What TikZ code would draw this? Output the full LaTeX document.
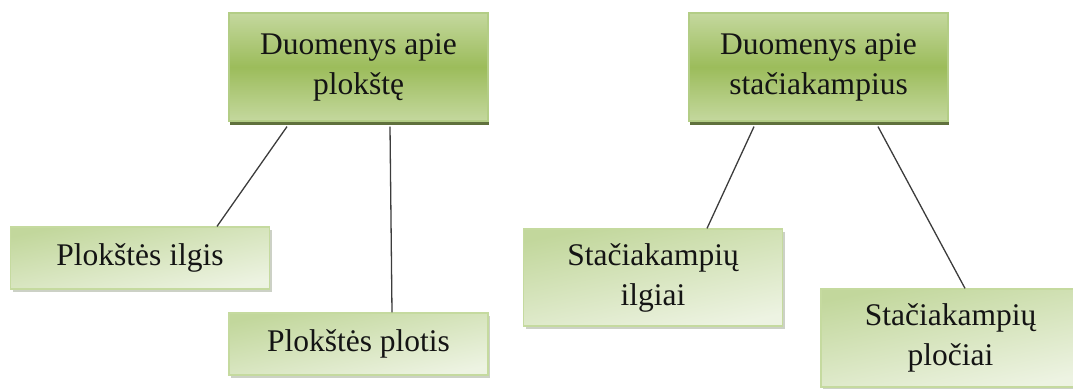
\documentclass[tikz,border=0pt]{standalone}
\usepackage{fontspec}
\setmainfont{Liberation Serif}
\usetikzlibrary{shadows}

\definecolor{headtop}{HTML}{C4D89E}
\definecolor{headmid}{HTML}{9CBC5B}
\definecolor{headedge}{HTML}{B3CD86}
\definecolor{headshadow}{HTML}{4F6228}
\definecolor{leaftop}{HTML}{C2D79C}
\definecolor{leafbottom}{HTML}{EDF3E2}
\definecolor{leafedge}{HTML}{C5DA9F}
\definecolor{leafshadow}{HTML}{8E9A80}
\definecolor{linkgrey}{HTML}{3C3C3C}

\tikzset{
  x=1pt, y=-1pt,
  every node/.style={font=\fontsize{31.5}{40}\selectfont, text=black!92, align=center, inner sep=0pt},
  headbox/.style={minimum width=259pt, minimum height=108pt, draw=headedge, line width=1.2pt,
    top color=headtop, bottom color=headtop, middle color=headmid,
    drop shadow={shadow xshift=0.8pt, shadow yshift=-4pt, fill=headshadow, opacity=0.9}},
  leafbox/.style={minimum width=259pt, draw=leafedge, line width=1.2pt,
    top color=leaftop, bottom color=leafbottom, shading angle=12,
    drop shadow={shadow xshift=2pt, shadow yshift=-3pt, fill=leafshadow, opacity=0.45}},
  link/.style={draw=linkgrey, line width=1.3pt}
}

\begin{document}
\begin{tikzpicture}
\useasboundingbox (0,0) rectangle (1073,388);

% parent boxes
\node[headbox] (plate) at (358.5,67) {Duomenys apie\\plokštę};
\node[headbox] (rects) at (818.5,67) {Duomenys apie\\stačiakampius};

% child boxes
\node[leafbox, minimum height=62pt] (plen) at (140,258) {Plokštės ilgis};
\node[leafbox, minimum height=62pt] (pwid) at (358.5,344) {Plokštės plotis};
\node[leafbox, minimum height=97pt] (rlen) at (653,277.5) {Stačiakampių\\ilgiai};
\node[leafbox, minimum height=98pt] (rwid) at (950.5,338) {Stačiakampių\\pločiai};

% connectors
\draw[link] ([xshift=-71.5pt, yshift=-5pt]plate.south) -- ([xshift=77pt]plen.north);
\draw[link] ([xshift=31.5pt, yshift=-5pt]plate.south) -- ([xshift=33.5pt]pwid.north);
\draw[link] ([xshift=-64.5pt, yshift=-5pt]rects.south) -- ([xshift=54pt]rlen.north);
\draw[link] ([xshift=59.5pt, yshift=-5pt]rects.south) -- ([xshift=14.5pt]rwid.north);
\end{tikzpicture}
\end{document}
